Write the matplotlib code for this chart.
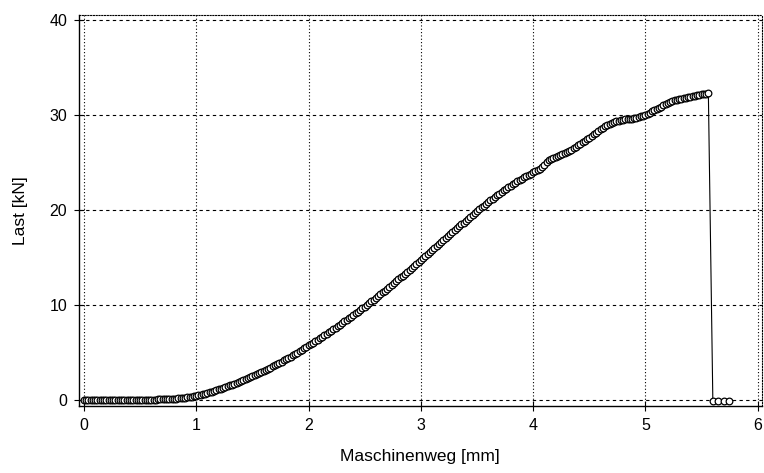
import numpy as np
import matplotlib.pyplot as plt

plt.rcParams['font.family'] = ['Liberation Sans', 'DejaVu Sans']

# Maschinenweg [mm], Abtastung alle 0.02 mm bis zum Bruch
weg = [
    0.00, 0.02, 0.04, 0.06, 0.08, 0.10, 0.12, 0.14, 0.16, 0.18,
    0.20, 0.22, 0.24, 0.26, 0.28, 0.30, 0.32, 0.34, 0.36, 0.38,
    0.40, 0.42, 0.44, 0.46, 0.48, 0.50, 0.52, 0.54, 0.56, 0.58,
    0.60, 0.62, 0.64, 0.66, 0.68, 0.70, 0.72, 0.74, 0.76, 0.78,
    0.80, 0.82, 0.84, 0.86, 0.88, 0.90, 0.92, 0.94, 0.96, 0.98,
    1.00, 1.02, 1.04, 1.06, 1.08, 1.10, 1.12, 1.14, 1.16, 1.18,
    1.20, 1.22, 1.24, 1.26, 1.28, 1.30, 1.32, 1.34, 1.36, 1.38,
    1.40, 1.42, 1.44, 1.46, 1.48, 1.50, 1.52, 1.54, 1.56, 1.58,
    1.60, 1.62, 1.64, 1.66, 1.68, 1.70, 1.72, 1.74, 1.76, 1.78,
    1.80, 1.82, 1.84, 1.86, 1.88, 1.90, 1.92, 1.94, 1.96, 1.98,
    2.00, 2.02, 2.04, 2.06, 2.08, 2.10, 2.12, 2.14, 2.16, 2.18,
    2.20, 2.22, 2.24, 2.26, 2.28, 2.30, 2.32, 2.34, 2.36, 2.38,
    2.40, 2.42, 2.44, 2.46, 2.48, 2.50, 2.52, 2.54, 2.56, 2.58,
    2.60, 2.62, 2.64, 2.66, 2.68, 2.70, 2.72, 2.74, 2.76, 2.78,
    2.80, 2.82, 2.84, 2.86, 2.88, 2.90, 2.92, 2.94, 2.96, 2.98,
    3.00, 3.02, 3.04, 3.06, 3.08, 3.10, 3.12, 3.14, 3.16, 3.18,
    3.20, 3.22, 3.24, 3.26, 3.28, 3.30, 3.32, 3.34, 3.36, 3.38,
    3.40, 3.42, 3.44, 3.46, 3.48, 3.50, 3.52, 3.54, 3.56, 3.58,
    3.60, 3.62, 3.64, 3.66, 3.68, 3.70, 3.72, 3.74, 3.76, 3.78,
    3.80, 3.82, 3.84, 3.86, 3.88, 3.90, 3.92, 3.94, 3.96, 3.98,
    4.00, 4.02, 4.04, 4.06, 4.08, 4.10, 4.12, 4.14, 4.16, 4.18,
    4.20, 4.22, 4.24, 4.26, 4.28, 4.30, 4.32, 4.34, 4.36, 4.38,
    4.40, 4.42, 4.44, 4.46, 4.48, 4.50, 4.52, 4.54, 4.56, 4.58,
    4.60, 4.62, 4.64, 4.66, 4.68, 4.70, 4.72, 4.74, 4.76, 4.78,
    4.80, 4.82, 4.84, 4.86, 4.88, 4.90, 4.92, 4.94, 4.96, 4.98,
    5.00, 5.02, 5.04, 5.06, 5.08, 5.10, 5.12, 5.14, 5.16, 5.18,
    5.20, 5.22, 5.24, 5.26, 5.28, 5.30, 5.32, 5.34, 5.36, 5.38,
    5.40, 5.42, 5.44, 5.46, 5.48, 5.50, 5.52, 5.54, 5.56,
    5.60, 5.65, 5.70, 5.74,
]

# Last [kN]
last = [
    0.00, 0.00, 0.00, 0.00, 0.00, 0.00, 0.00, 0.00, 0.00, 0.00,
    0.00, 0.00, 0.00, 0.00, 0.00, 0.00, 0.00, 0.00, 0.00, 0.00,
    0.00, 0.00, 0.01, 0.01, 0.01, 0.01, 0.02, 0.02, 0.03, 0.03,
    0.04, 0.04, 0.05, 0.06, 0.07, 0.08, 0.09, 0.10, 0.11, 0.12,
    0.14, 0.16, 0.18, 0.20, 0.23, 0.26, 0.29, 0.33, 0.37, 0.42,
    0.47, 0.52, 0.57, 0.62, 0.68, 0.74, 0.81, 0.88, 0.95, 1.03,
    1.11, 1.19, 1.28, 1.36, 1.45, 1.54, 1.63, 1.72, 1.82, 1.91,
    2.01, 2.11, 2.21, 2.31, 2.42, 2.52, 2.63, 2.74, 2.85, 2.96,
    3.07, 3.18, 3.30, 3.42, 3.54, 3.66, 3.79, 3.91, 4.04, 4.17,
    4.30, 4.43, 4.57, 4.71, 4.85, 4.99, 5.13, 5.28, 5.43, 5.59,
    5.75, 5.90, 6.05, 6.20, 6.35, 6.50, 6.66, 6.81, 6.97, 7.13,
    7.29, 7.45, 7.61, 7.77, 7.94, 8.10, 8.27, 8.44, 8.61, 8.78,
    8.95, 9.12, 9.30, 9.48, 9.66, 9.84, 10.02, 10.20, 10.39, 10.57,
    10.76, 10.94, 11.13, 11.32, 11.51, 11.70, 11.90, 12.10, 12.30, 12.50,
    12.70, 12.90, 13.10, 13.30, 13.50, 13.70, 13.91, 14.11, 14.32, 14.52,
    14.73, 14.94, 15.15, 15.36, 15.57, 15.78, 15.99, 16.20, 16.41, 16.62,
    16.83, 17.04, 17.25, 17.45, 17.66, 17.86, 18.07, 18.27, 18.48, 18.68,
    18.88, 19.08, 19.28, 19.48, 19.68, 19.87, 20.07, 20.26, 20.45, 20.63,
    20.82, 21.00, 21.18, 21.36, 21.54, 21.71, 21.89, 22.05, 22.22, 22.38,
    22.54, 22.70, 22.85, 23.00, 23.14, 23.28, 23.42, 23.55, 23.69, 23.82,
    23.95, 24.07, 24.20, 24.33, 24.48, 24.70, 25.00, 25.22, 25.40, 25.52,
    25.60, 25.67, 25.75, 25.85, 25.95, 26.07, 26.20, 26.35, 26.50, 26.65,
    26.80, 26.95, 27.10, 27.27, 27.45, 27.62, 27.80, 27.97, 28.15, 28.32,
    28.50, 28.65, 28.80, 28.93, 29.05, 29.15, 29.25, 29.33, 29.40, 29.45,
    29.50, 29.52, 29.55, 29.57, 29.60, 29.65, 29.70, 29.77, 29.85, 29.92,
    30.00, 30.12, 30.25, 30.37, 30.50, 30.62, 30.75, 30.87, 31.00, 31.12,
    31.25, 31.35, 31.45, 31.53, 31.60, 31.65, 31.70, 31.75, 31.80, 31.85,
    31.90, 31.95, 32.00, 32.05, 32.10, 32.15, 32.20, 32.25, 32.30,
    -0.15, -0.15, -0.15, -0.15,
]

fig = plt.figure(figsize=(7.64, 4.73), dpi=100)
ax = fig.add_axes([0.1034, 0.1416, 0.8936, 0.8264])

ax.plot(weg, last, color="black", linewidth=0.8,
        marker="o", markersize=4.8, markerfacecolor="white",
        markeredgecolor="black", markeredgewidth=0.9)

ax.set_xlim(-0.044, 6.035)
ax.set_ylim(-0.63, 40.5)
ax.set_xticks([0, 1, 2, 3, 4, 5, 6])
ax.set_yticks([0, 10, 20, 30, 40])

# gitter: senkrecht gepunktet, waagrecht gestrichelt
ax.xaxis.grid(True, linestyle=(0, (1, 2)), color="black", linewidth=0.8)
ax.yaxis.grid(True, linestyle=(0, (3, 3)), color="black", linewidth=0.8)
ax.set_axisbelow(True)

for s in ["top", "right"]:
    ax.spines[s].set_linestyle((0, (1, 1.5)))
    ax.spines[s].set_linewidth(0.8)
ax.spines["left"].set_linewidth(1.0)
ax.spines["bottom"].set_linewidth(1.0)

ax.tick_params(direction="inout", length=7, width=0.8, labelsize=11.5, pad=5)

ax.set_xlabel("Maschinenweg [mm]", fontsize=12.5, labelpad=12)
ax.set_ylabel("Last [kN]", fontsize=12.5, labelpad=15)

fig.savefig("out.png", dpi=100)
